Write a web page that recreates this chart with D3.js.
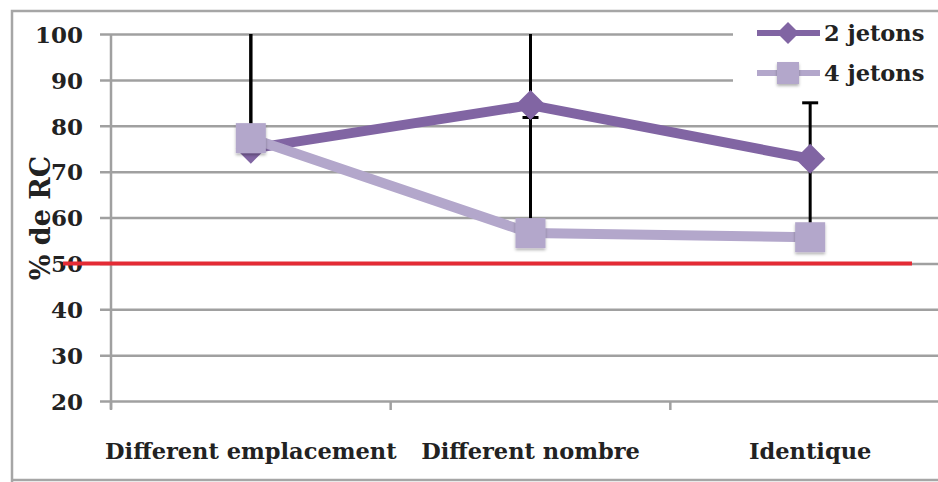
<!DOCTYPE html>
<html>
<head>
<meta charset="utf-8">
<script src="https://cdn.jsdelivr.net/npm/d3@7"></script>
<style>
  html, body { margin: 0; padding: 0; background: #fff; }
  svg { display: block; }
  text { font-family: "DejaVu Serif", "Liberation Serif", serif; font-weight: bold; fill: #222; }
</style>
</head>
<body>
<svg id="chart" width="938" height="482"></svg>
<script>
// Conditions on the x axis
const categories = ["Different emplacement", "Different nombre", "Identique"];
// Mean % of correct responses per condition
const jetons2 = [75, 84.5, 72.8];
const jetons4 = [77.3, 56.6, 55.7];
// Upper error bar lengths
const err2 = [28, 20, 12.2];
const err4 = [30, 25.2, 16];
// Y tick values and chance level
const yTicks = [20, 30, 40, 50, 60, 70, 80, 90, 100];
const chanceLevel = 50;
const seriesNames = ["2 jetons", "4 jetons"];

const darkPurple = "#8165a3";
const lightPurple = "#b3a7cb";

const svg = d3.select("#chart");

// outer frame
svg.append("path")
  .attr("d", "M12,482 L12,11 L938,11 M12,480 L938,480")
  .attr("fill", "none").attr("stroke", "#a6a6a6").attr("stroke-width", 2.5);

const x = d3.scaleBand().domain(categories).range([111, 950]).padding(0);
const y = d3.scaleLinear().domain([20, 100]).range([401, 34]);
const cx = c => x(c) + x.bandwidth() / 2;

// horizontal gridlines (y axis with long ticks)
const yAxis = d3.axisLeft(y).tickValues(yTicks).tickSize(-(938 - 111)).tickPadding(18);
const gy = svg.append("g").attr("transform", "translate(111,0)").call(yAxis);
gy.select(".domain").remove();
gy.selectAll(".tick line")
  .attr("x1", -11).attr("x2", 938 - 111)
  .attr("stroke", "#a0a0a0").attr("stroke-width", 2.5);
gy.selectAll(".tick text")
  .attr("x", -28).attr("dy", "0.36em")
  .style("font-size", "23px").attr("fill", "#222");

// vertical axis line
svg.append("line")
  .attr("x1", 111).attr("x2", 111).attr("y1", 34).attr("y2", 409)
  .attr("stroke", "#a0a0a0").attr("stroke-width", 2.5);

// category boundary ticks and labels
const xAxis = d3.axisBottom(x).tickSize(0).tickPadding(0);
svg.selectAll(".xtick").data(categories.map(c => x(c)).concat([x(categories[2]) + x.bandwidth()]))
  .join("line").attr("class", "xtick")
  .attr("x1", d => d).attr("x2", d => d).attr("y1", 401).attr("y2", 410)
  .attr("stroke", "#a0a0a0").attr("stroke-width", 2.5);
const gx = svg.append("g").attr("transform", "translate(0,401)").call(xAxis);
gx.select(".domain").remove();
gx.selectAll(".tick text").attr("y", 58).attr("dy", 0)
  .style("font-size", "22.5px").attr("fill", "#222");

// y axis title
svg.append("text")
  .attr("transform", "translate(50,218) rotate(-90)")
  .attr("text-anchor", "middle")
  .style("font-size", "27px")
  .text("% de RC");

// chance level
svg.append("line")
  .attr("x1", 63).attr("x2", 912).attr("y1", y(chanceLevel)).attr("y2", y(chanceLevel))
  .attr("stroke", "#e42b35").attr("stroke-width", 4);

// clip the error bars to the plotting area
svg.append("clipPath").attr("id", "plotClip")
  .append("rect").attr("x", 100).attr("y", y(100)).attr("width", 838).attr("height", y(20) - y(100));

const defs = svg.append("defs");
const f = defs.append("filter").attr("id", "shadow").attr("x", "-30%").attr("y", "-30%").attr("width", "160%").attr("height", "160%");
f.append("feDropShadow").attr("dx", 0).attr("dy", 2).attr("stdDeviation", 1.5)
  .attr("flood-color", "#000").attr("flood-opacity", 0.3);

// error bars (upper only)
const eg = svg.append("g").attr("clip-path", "url(#plotClip)");
[[jetons2, err2], [jetons4, err4]].forEach(([vals, errs]) => {
  categories.forEach((c, i) => {
    const top = y(vals[i] + errs[i]);
    eg.append("line")
      .attr("x1", cx(c)).attr("x2", cx(c))
      .attr("y1", y(vals[i])).attr("y2", top)
      .attr("stroke", "#000").attr("stroke-width", 3);
    eg.append("line")
      .attr("x1", cx(c) - 8).attr("x2", cx(c) + 8)
      .attr("y1", top).attr("y2", top)
      .attr("stroke", "#000").attr("stroke-width", 3);
  });
});

const line = d3.line().x((d, i) => cx(categories[i])).y(d => y(d));
const diamond = s => `M0,${-s} L${s},0 L0,${s} L${-s},0 Z`;

// 2 jetons series
svg.append("path").datum(jetons2).attr("d", line)
  .attr("fill", "none").attr("stroke", darkPurple).attr("stroke-width", 10).attr("stroke-linejoin", "round");
svg.selectAll(".m2").data(jetons2).join("path").attr("class", "m2")
  .attr("transform", (d, i) => `translate(${cx(categories[i])},${y(d)})`)
  .attr("d", diamond(15)).attr("fill", darkPurple);

// 4 jetons series
svg.append("path").datum(jetons4).attr("d", line)
  .attr("fill", "none").attr("stroke", lightPurple).attr("stroke-width", 10).attr("stroke-linejoin", "round");
svg.selectAll(".m4").data(jetons4).join("rect").attr("class", "m4")
  .attr("x", (d, i) => cx(categories[i]) - 15).attr("y", d => y(d) - 15)
  .attr("width", 30).attr("height", 30)
  .attr("fill", lightPurple).attr("filter", "url(#shadow)");

// legend
const lg = svg.append("g");
lg.append("rect").attr("x", 733).attr("y", 14).attr("width", 205).attr("height", 84).attr("fill", "#fff");
const rows = [33, 73];
lg.append("line").attr("x1", 757).attr("x2", 820).attr("y1", rows[0]).attr("y2", rows[0])
  .attr("stroke", darkPurple).attr("stroke-width", 6);
lg.append("path").attr("transform", `translate(788,${rows[0]})`).attr("d", diamond(11)).attr("fill", darkPurple);
lg.append("line").attr("x1", 757).attr("x2", 820).attr("y1", rows[1]).attr("y2", rows[1])
  .attr("stroke", lightPurple).attr("stroke-width", 6);
lg.append("rect").attr("x", 777).attr("y", rows[1] - 11).attr("width", 22).attr("height", 22)
  .attr("fill", lightPurple).attr("filter", "url(#shadow)");
lg.selectAll(".lt").data(seriesNames).join("text").attr("class", "lt")
  .attr("x", 824).attr("y", (d, i) => rows[i]).attr("dy", "0.36em")
  .style("font-size", "22.5px").text(d => d);
</script>
</body>
</html>
